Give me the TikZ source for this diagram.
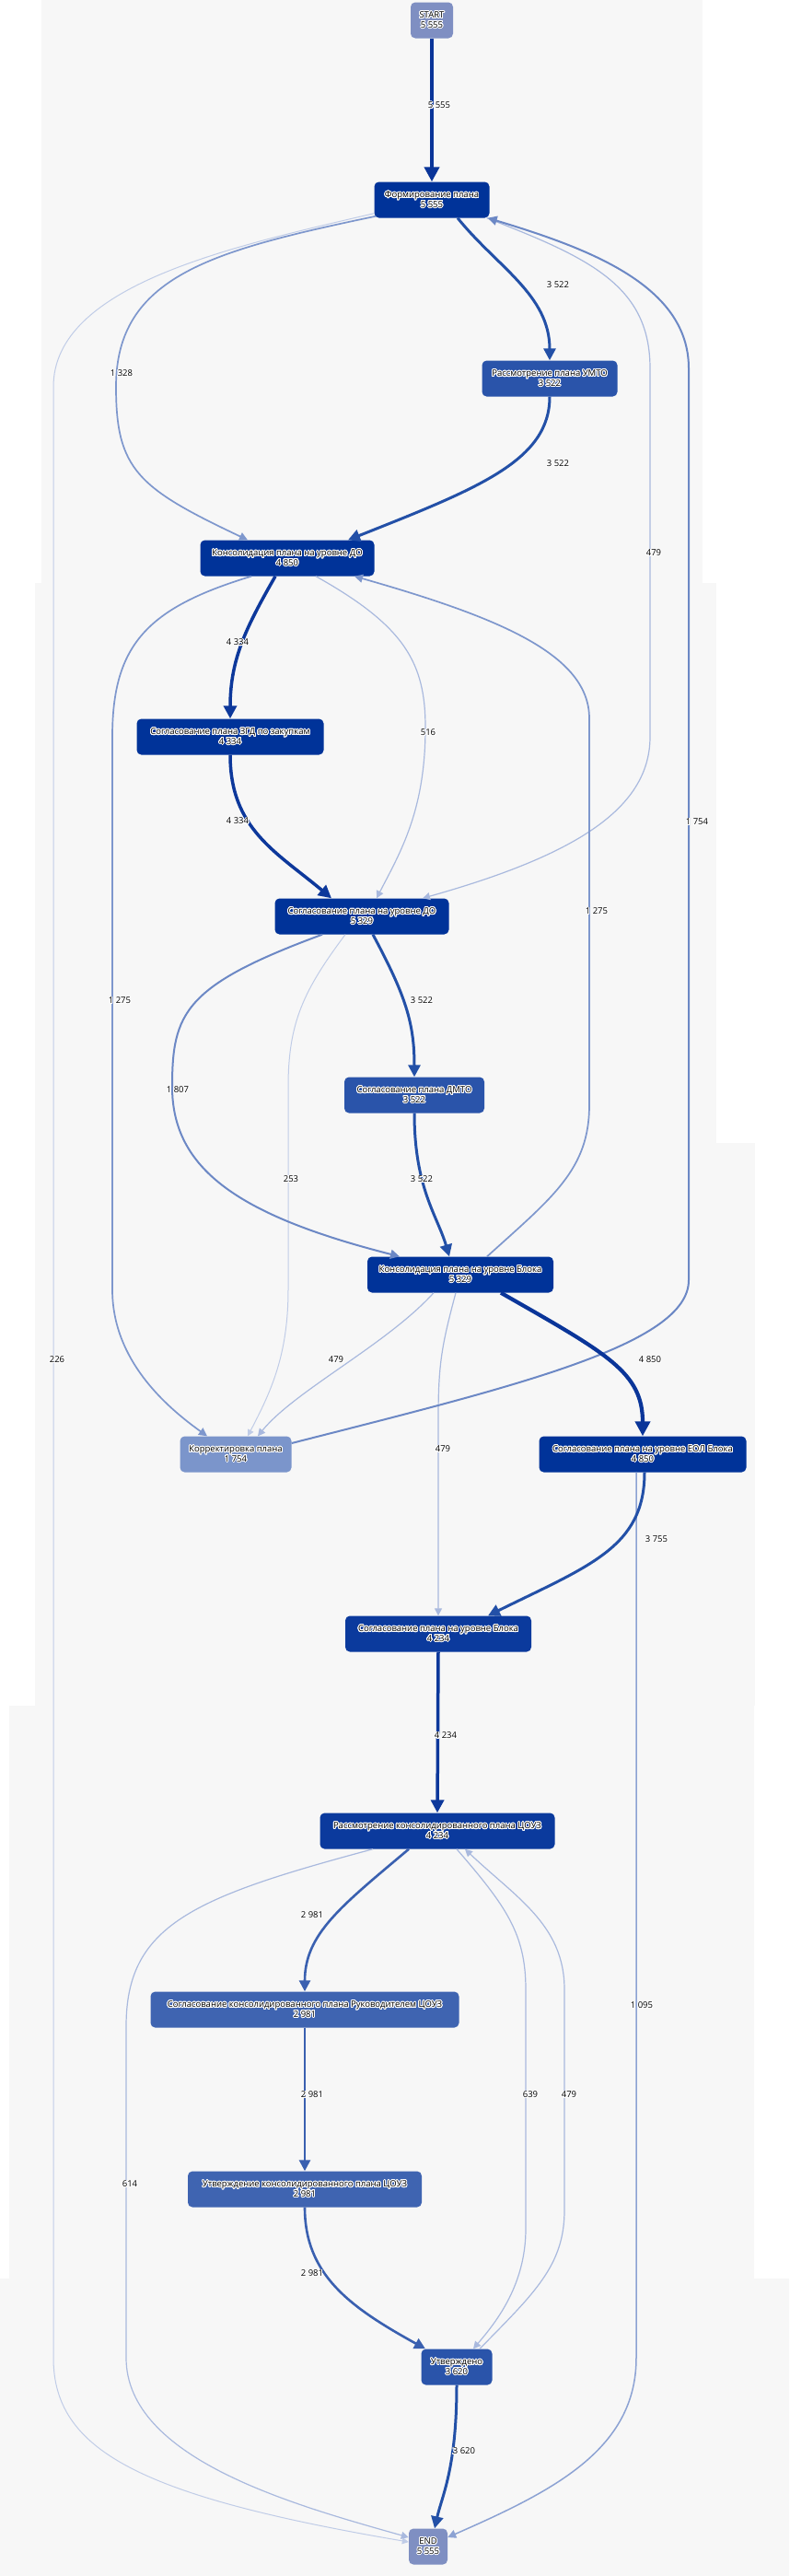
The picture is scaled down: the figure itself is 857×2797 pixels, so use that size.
\documentclass[tikz,border=0pt]{standalone}
\usepackage{fontspec}
\setmainfont{Open Sans}
\usepackage{contour}
\contourlength{0.9pt}
\contournumber{24}
\usetikzlibrary{arrows.meta,calc}
\definecolor{bgc}{HTML}{F7F7F7}
\definecolor{ns}{HTML}{7F8FC2}
\definecolor{nA}{HTML}{003399}
\definecolor{nB}{HTML}{0B3A9D}
\definecolor{nC}{HTML}{2A54AA}
\definecolor{nD}{HTML}{3F64B1}
\definecolor{nE}{HTML}{7B95CB}
\definecolor{eA}{HTML}{0A3599}
\definecolor{eB}{HTML}{0D389B}
\definecolor{eC}{HTML}{2350A7}
\definecolor{eD}{HTML}{3A60B0}
\definecolor{eE}{HTML}{6C88C5}
\definecolor{eF}{HTML}{7E97CD}
\definecolor{eG}{HTML}{8CA2D3}
\definecolor{eH}{HTML}{A9B9DE}
\definecolor{eI}{HTML}{C0CCE7}
\newcommand{\hl}[1]{\contour{white}{#1}}
\tikzset{
  proc/.style={rounded corners=5pt, minimum height=39pt, inner sep=2pt, align=center, text=black,
    font=\fontsize{9.5}{10.5}\selectfont},
  lbl/.style={inner sep=0pt, text=black, font=\fontsize{9.5}{10.5}\selectfont},
  wA/.style={draw=eA, line width=4.2pt, -{Triangle[length=16pt,width=16pt]}},
  wB/.style={draw=eB, line width=3.5pt, -{Triangle[length=14pt,width=14pt]}},
  wC/.style={draw=eC, line width=3pt, -{Triangle[length=13pt,width=13pt]}},
  wD/.style={draw=eD, line width=2.6pt, -{Triangle[length=12pt,width=12pt]}},
  wE/.style={draw=eE, line width=2pt, -{Triangle[length=10pt,width=10pt]}},
  wF/.style={draw=eF, line width=1.7pt, -{Triangle[length=9pt,width=9pt]}},
  wG/.style={draw=eG, line width=1.5pt, -{Triangle[length=9pt,width=9pt]}},
  wH/.style={draw=eH, line width=1.2pt, -{Triangle[length=8pt,width=8pt]}},
  wI/.style={draw=eI, line width=1pt, -{Triangle[length=7pt,width=7pt]}},
}
\begin{document}
\begin{tikzpicture}[x=1pt,y=-1pt]
\useasboundingbox (0,0) rectangle (857,2797);
\fill[bgc] (45,0) rectangle (763,633);
\fill[bgc] (38,633) rectangle (778,1241);
\fill[bgc] (38,1241) rectangle (820,1852);
\fill[bgc] (10,1852) rectangle (819,2474);
\fill[bgc] (0,2474) rectangle (857,2797);

% nodes
\node[proc, fill=ns, minimum width=46pt] (start) at (469,22) {\hl{START}\\\hl{5 555}};
\node[proc, fill=nA, minimum width=125pt] (form) at (469,217) {\hl{Формирование плана}\\\hl{5 555}};
\node[proc, fill=nC, minimum width=147pt] (umto) at (597,411) {\hl{Рассмотрение плана УМТО}\\\hl{3 522}};
\node[proc, fill=nA, minimum width=189pt] (kdo) at (312,606) {\hl{Консолидация плана на уровне ДО}\\\hl{4 850}};
\node[proc, fill=nA, minimum width=203pt] (zgd) at (250,800) {\hl{Согласование плана ЗГД по закупкам}\\\hl{4 334}};
\node[proc, fill=nA, minimum width=189pt] (sdo) at (393,995) {\hl{Согласование плана на уровне ДО}\\\hl{5 329}};
\node[proc, fill=nC, minimum width=152pt] (dmto) at (450,1189) {\hl{Согласование плана ДМТО}\\\hl{3 522}};
\node[proc, fill=nA, minimum width=202pt] (kbl) at (500,1384) {\hl{Консолидация плана на уровне Блока}\\\hl{5 329}};
\node[proc, fill=nE, minimum width=121pt] (korr) at (256,1579) {\hl{Корректировка плана}\\\hl{1 754}};
\node[proc, fill=nA, minimum width=225pt] (eol) at (698,1579) {\hl{Согласование плана на уровне ЕОЛ Блока}\\\hl{4 850}};
\node[proc, fill=nB, minimum width=202pt] (sbl) at (476,1774) {\hl{Согласование плана на уровне Блока}\\\hl{4 234}};
\node[proc, fill=nB, minimum width=255pt] (couz) at (475,1988) {\hl{Рассмотрение консолидированного плана ЦОУЗ}\\\hl{4 234}};
\node[proc, fill=nD, minimum width=335pt] (ruk) at (331,2182) {\hl{Согласование консолидированного плана Руководителем ЦОУЗ}\\\hl{2 981}};
\node[proc, fill=nD, minimum width=254pt] (utv) at (331,2377) {\hl{Утверждение консолидированного плана ЦОУЗ}\\\hl{2 981}};
\node[proc, fill=nC, minimum width=77pt] (done) at (496,2570) {\hl{Утверждено}\\\hl{3 620}};
\node[proc, fill=ns, minimum width=42pt] (end) at (465,2765) {\hl{END}\\\hl{5 555}};

% edges (light first)
\draw[wI] ($(form.south west)+(0,-5)$) .. controls (250,268) and (58,310) .. (58,420) -- (58,2560) .. controls (58,2660) and (150,2710) .. ($(end.west)+(0,-5)$);
\draw[wI] ($(sdo.south)+(-18,0)$) .. controls (330,1075) and (313,1110) .. (313,1180) -- (313,1400) .. controls (313,1470) and (295,1510) .. ($(korr.north)+(13,0)$);
\draw[wH] ($(form.south east)+(-3,0)$) .. controls (640,280) and (706,310) .. (706,400) -- (706,800) .. controls (706,880) and (620,930) .. ($(sdo.north)+(66,0)$);
\draw[wH] ($(kdo.south)+(31,0)$) .. controls (440,680) and (462,720) .. (462,790) .. controls (462,880) and (435,925) .. ($(sdo.north)+(16,0)$);
\draw[wH] ($(kbl.south)+(-29,0)$) .. controls (420,1460) and (320,1510) .. ($(korr.north)+(24,0)$);
\draw[wH] ($(kbl.south)+(-5,0)$) .. controls (480,1460) and (476,1480) .. (476,1540) -- (sbl.north);
\draw[wH] ($(couz.south)+(-70,0)$) .. controls (210,2060) and (137,2090) .. (137,2200) -- (137,2560) .. controls (137,2670) and (320,2720) .. ($(end.west)+(0,-10)$);
\draw[wH] ($(couz.south)+(21,0)$) .. controls (550,2070) and (571,2100) .. (571,2160) -- (571,2420) .. controls (571,2480) and (540,2520) .. ($(done.north)+(18,0)$);
\draw[wH] ($(done.north)+(25,0)$) .. controls (580,2490) and (613,2460) .. (613,2400) -- (613,2160) .. controls (613,2090) and (560,2060) .. ($(couz.south)+(30,0)$);
\draw[wG] ($(eol.south)+(-7,0)$) -- (691,2560) .. controls (691,2660) and (600,2705) .. ($(end.east)+(0,-10)$);
\draw[wF] ($(form.south west)+(2,-2)$) .. controls (230,272) and (126,300) .. (126,420) .. controls (126,510) and (150,530) .. ($(kdo.north)+(-43,0)$);
\draw[wF] ($(kdo.south)+(-39,0)$) .. controls (160,660) and (122,700) .. (122,800) -- (122,1400) .. controls (122,1470) and (170,1520) .. ($(korr.north)+(-31,0)$);
\draw[wF] ($(kbl.north)+(29,0)$) .. controls (600,1300) and (640,1270) .. (640,1200) -- (640,780) .. controls (640,710) and (540,670) .. ($(kdo.south)+(73,0)$);
\draw[wE] ($(korr.east)+(0,-12)$) .. controls (560,1505) and (748,1460) .. (748,1390) -- (748,400) .. controls (748,310) and (640,270) .. ($(form.south east)+(-2,0)$);
\draw[wE] ($(sdo.south)+(-43,0)$) .. controls (200,1070) and (187,1100) .. (187,1180) .. controls (187,1270) and (260,1320) .. ($(kbl.north)+(-66,0)$);
\draw[wD] ($(couz.south)+(-31,0)$) .. controls (370,2070) and (331,2100) .. (ruk.north);
\draw[wD] (ruk.south) -- (utv.north);
\draw[wD] (utv.south) .. controls (331,2470) and (380,2505) .. ($(done.north)+(-34,0)$);
\draw[wC] ($(form.south)+(28,0)$) .. controls (540,290) and (597,320) .. (umto.north);
\draw[wC] (umto.south) .. controls (597,500) and (520,530) .. ($(kdo.north)+(66,0)$);
\draw[wC] ($(sdo.south)+(12,0)$) .. controls (440,1080) and (450,1110) .. (dmto.north);
\draw[wC] (dmto.south) .. controls (450,1290) and (475,1320) .. ($(kbl.north)+(-12,0)$);
\draw[wC] ($(eol.south)+(2,0)$) .. controls (700,1680) and (640,1700) .. ($(sbl.north)+(54,0)$);
\draw[wC] (done.south) .. controls (496,2680) and (480,2710) .. ($(end.north)+(7,0)$);
\draw[wB] ($(kdo.south)+(-13,0)$) .. controls (268,680) and (250,715) .. (zgd.north);
\draw[wB] (zgd.south) .. controls (250,900) and (300,925) .. ($(sdo.north)+(-33,0)$);
\draw[wB] (sbl.south) -- (couz.north);
\draw[wA] (start.south) -- (form.north);
\draw[wA] ($(kbl.south)+(44,0)$) .. controls (660,1470) and (698,1490) .. (eol.north);

% labels
\node[lbl] (l01) at (477,115) {\hl{5 555}};
\node[lbl] (l02) at (606,310) {\hl{3 522}};
\node[lbl] (l03) at (606,504) {\hl{3 522}};
\node[lbl] (l04) at (132,406) {\hl{1 328}};
\node[lbl] (l05) at (710,601) {\hl{479}};
\node[lbl] (l06) at (258,698) {\hl{4 334}};
\node[lbl] (l07) at (258,892) {\hl{4 334}};
\node[lbl] (l08) at (465,796) {\hl{516}};
\node[lbl] (l09) at (757,893) {\hl{1 754}};
\node[lbl] (l10) at (648,990) {\hl{1 275}};
\node[lbl] (l11) at (130,1087) {\hl{1 275}};
\node[lbl] (l12) at (458,1087) {\hl{3 522}};
\node[lbl] (l13) at (193,1184) {\hl{1 807}};
\node[lbl] (l14) at (316,1281) {\hl{253}};
\node[lbl] (l15) at (458,1281) {\hl{3 522}};
\node[lbl] (l16) at (62,1477) {\hl{226}};
\node[lbl] (l17) at (365,1477) {\hl{479}};
\node[lbl] (l18) at (706,1477) {\hl{4 850}};
\node[lbl] (l19) at (481,1574) {\hl{479}};
\node[lbl] (l20) at (713,1672) {\hl{3 755}};
\node[lbl] (l21) at (484,1885) {\hl{4 234}};
\node[lbl] (l22) at (339,2080) {\hl{2 981}};
\node[lbl] (l23) at (697,2178) {\hl{1 095}};
\node[lbl] (l24) at (339,2275) {\hl{2 981}};
\node[lbl] (l25) at (576,2275) {\hl{639}};
\node[lbl] (l26) at (618,2275) {\hl{479}};
\node[lbl] (l27) at (141,2372) {\hl{614}};
\node[lbl] (l28) at (339,2469) {\hl{2 981}};
\node[lbl] (l29) at (504,2662) {\hl{3 620}};
\end{tikzpicture}
\end{document}
